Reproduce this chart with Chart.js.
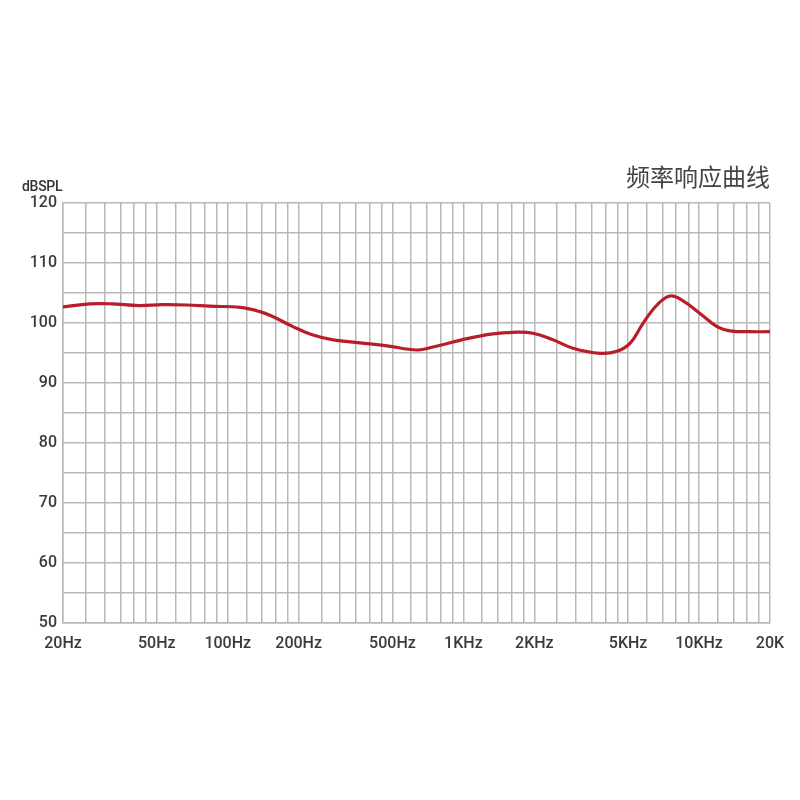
<!DOCTYPE html>
<html>
<head>
<meta charset="utf-8">
<script src="https://cdn.jsdelivr.net/npm/chart.js@4/dist/chart.umd.min.js"></script>
<style>
  body { margin: 0; background: #fff; }
  #wrap { position: relative; width: 800px; height: 800px; }
  #title { position: absolute; right: 30px; top: 158px; font: 24px "Noto Sans CJK SC", sans-serif; color: #444; }
  #unit { position: absolute; left: 22px; top: 178px; font: 500 14px Roboto, sans-serif; color: #333; letter-spacing: -0.3px; }
</style>
</head>
<body>
<div id="wrap">
  <canvas id="fr"></canvas>
  <div id="title">频率响应曲线</div>
  <div id="unit">dBSPL</div>
</div>
<script>
// frequency (Hz) and level (dB SPL)
const freqs = [20, 26, 32, 42, 53, 67, 84, 113, 137, 156, 189, 230, 280, 364, 474, 636, 743,
  1036, 1335, 1624, 1974, 2400, 2918, 3800, 4484, 5092, 5784, 6632, 7528, 8548, 10092,
  11916, 13534, 16456, 20000];
const spl = [102.7, 103.2, 103.2, 102.9, 103.05, 103.0, 102.8, 102.6, 101.9, 101.05, 99.4,
  98.0, 97.2, 96.7, 96.2, 95.5, 96.0, 97.4, 98.2, 98.45, 98.3, 97.2, 95.8, 94.95, 95.3,
  96.6, 99.95, 103.0, 104.5, 103.7, 101.6, 99.4, 98.7, 98.55, 98.55];

// vertical grid lines and the labelled ones
const gridSteps = [2, 2.5, 3, 3.5, 4, 4.5, 5, 6, 7, 8, 9, 10, 12, 14, 16, 18];
const decades = [10, 100, 1000];
const xLabels = { 20: "20Hz", 50: "50Hz", 100: "100Hz", 200: "200Hz", 500: "500Hz",
  1000: "1KHz", 2000: "2KHz", 5000: "5KHz", 10000: "10KHz", 20000: "20K" };

let gridFreqs = [];
decades.forEach(d => gridSteps.forEach(s => gridFreqs.push(Math.round(s * d))));
gridFreqs.push(20000);

const tickFont = { family: "Roboto, sans-serif", size: 16, weight: "500" };
const gridStyle = { color: "#b8b8b8", lineWidth: 1.5, drawTicks: false };

new Chart(document.querySelector("#fr"), {
  type: "line",
  data: {
    datasets: [{
      data: freqs.map((f, i) => ({ x: f, y: spl[i] })),
      borderColor: "#b81d2a", borderWidth: 3.2, pointRadius: 0, tension: 0.4, fill: false
    }]
  },
  options: {
    responsive: true, maintainAspectRatio: false, animation: false,
    layout: { padding: { left: 0, top: 203, right: 30, bottom: 137 } },
    plugins: { legend: { display: false }, tooltip: { enabled: false } },
    scales: {
      x: {
        type: "logarithmic", min: 20, max: 20000,
        afterBuildTicks: scale => { scale.ticks = gridFreqs.map(v => ({ value: v })); },
        afterFit: scale => { scale.height = 40; },
        grid: gridStyle,
        border: { color: "#b8b8b8", width: 1.5 },
        ticks: {
          autoSkip: false, maxRotation: 0, padding: 11, color: "#3a3a3a", font: tickFont,
          callback: v => xLabels[v] || ""
        }
      },
      y: {
        min: 50, max: 120,
        afterFit: scale => { scale.width = 63; },
        grid: gridStyle,
        border: { color: "#b8b8b8", width: 1.5 },
        ticks: {
          stepSize: 5, padding: 6, color: "#3a3a3a", font: tickFont,
          callback: v => (v % 10 === 0 ? v : "")
        }
      }
    }
  }
});
</script>
</body>
</html>
